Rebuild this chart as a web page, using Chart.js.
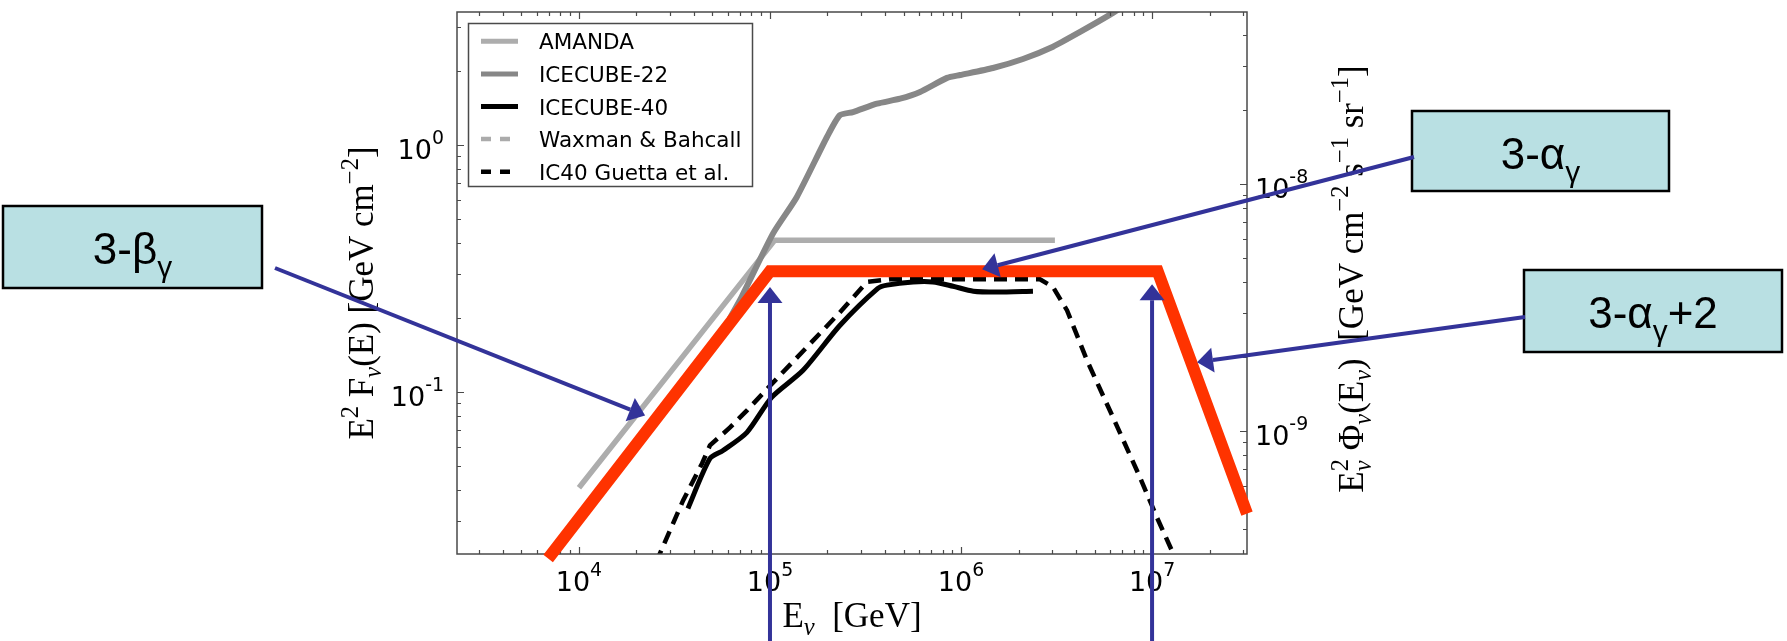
<!DOCTYPE html>
<html>
<head>
<meta charset="utf-8">
<script src="https://cdn.jsdelivr.net/npm/chart.js@4/dist/chart.umd.min.js"></script>
<style>
  html, body { margin: 0; padding: 0; background: #ffffff; overflow: hidden; }
  canvas { display: block; }
</style>
</head>
<body>
<canvas id="c" width="1787" height="641" style="width:1787px;height:641px"></canvas>
<script>
// Neutrino energies in GeV and fluence E^2 F(E) in GeV cm^-2
const amandaE = [1e4, 1.06e5, 3.1e6];
const amandaF = [0.041, 0.412, 0.412];

const ic22E = [6.17e4, 7.11e4, 1.04e5, 1.38e5, 1.99e5, 2.32e5, 2.72e5, 3.63e5, 4.8e5, 6.1e5,
               8.45e5, 9.9e5, 1.47e6, 2.11e6, 3.03e6, 4.2e6, 6.03e6, 7.2e6];
const ic22F = [0.199, 0.243, 0.44, 0.615, 1.08, 1.32, 1.36, 1.47, 1.54, 1.64,
               1.87, 1.92, 2.05, 2.23, 2.5, 2.87, 3.37, 3.69];

const ic40E = [3.72e4, 4.85e4, 5.68e4, 7.58e4, 1.02e5, 1.49e5, 2.32e5, 3.67e5, 4.1e5, 5.61e5,
               7.13e5, 9.08e5, 1.16e6, 1.54e6, 2.38e6];
const ic40F = [0.0338, 0.0538, 0.058, 0.0687, 0.0952, 0.1225, 0.186, 0.263, 0.271, 0.279,
               0.279, 0.268, 0.256, 0.254, 0.256];

const wbE = [1e4, 1e5, 1.07e7, 3e7];
const wbF = [0.0308, 0.308, 0.308, 0.0353];

const guettaE = [2.53e4, 3.51e4, 4.41e4, 4.85e4, 6.18e4, 7.58e4, 1.04e5, 1.56e5, 2.32e5, 3.22e5,
                 4.25e5, 1.07e6, 2.59e6, 3.03e6, 3.59e6, 4.57e6, 6.25e6, 8.65e6, 1.06e7, 1.34e7];
const guettaF = [0.0204, 0.0364, 0.0514, 0.0608, 0.0719, 0.0843, 0.1094, 0.152, 0.21, 0.279,
                 0.286, 0.286, 0.286, 0.266, 0.214, 0.134, 0.0789, 0.0451, 0.0311, 0.0208];

// broken power law drawn over the limits (slopes 3-beta, 3-alpha, 3-alpha+2)
const brokenE = [6.9e3, 1e5, 1.07e7, 3.14e7];
const brokenF = [0.0212, 0.308, 0.308, 0.0322];

const seriesNames = ['AMANDA', 'ICECUBE-22', 'ICECUBE-40', 'Waxman & Bahcall', 'IC40 Guetta et al.'];
const brokenName = 'broken power law';

// axis ranges
const xRange = [2300, 3.14e7];
const yRange = [0.0221, 3.455];
const fluxPerFluence = 1.44e-8;   // right axis value = left axis value * this

// tick labels (value, exponent text)
const xTickValues = [1e4, 1e5, 1e6, 1e7];
const xTickExps = ['4', '5', '6', '7'];
const yTickValues = [1e-1, 1e0];
const yTickExps = ['-1', '0'];
const y2TickValues = [1e-9, 1e-8];
const y2TickExps = ['-9', '-8'];

// callouts: arrow tips given in data coordinates (E, fluence)
const breakEnergies = [1e5, 1e7];
const breakTipF = [0.266, 0.273];
const calloutTipE = [2.22e4, 1.29e6, 1.72e7];
const calloutTipF = [0.0804, 0.314, 0.132];

const pts = (xs, ys) => xs.map((x, i) => ({ x, y: ys[i] }));

// ---------- rich text with super/subscripts ----------
function drawRich(ctx, parts, x, y, o) {
  const big = o.size, small = o.size * (o.scale || 0.7);
  const font = (sz, it) => (it ? 'italic ' : '') + sz.toFixed(1) + 'px ' + o.family;
  const runs = [];
  let w = 0;
  for (const p of parts) {
    if (p.t !== undefined) {
      ctx.font = font(big, p.it);
      runs.push({ t: p.t, f: ctx.font, dx: w, dy: 0 });
      w += ctx.measureText(p.t).width;
    } else {
      let adv = 0;
      if (p.sup !== undefined) {
        ctx.font = font(small, p.supIt);
        runs.push({ t: p.sup, f: ctx.font, dx: w, dy: -big * o.rise });
        adv = Math.max(adv, ctx.measureText(p.sup).width);
      }
      if (p.sub !== undefined) {
        ctx.font = font(small, p.subIt);
        runs.push({ t: p.sub, f: ctx.font, dx: w, dy: big * o.drop });
        adv = Math.max(adv, ctx.measureText(p.sub).width);
      }
      w += adv + (o.gap || 0);
    }
  }
  const x0 = o.align === 'center' ? x - w / 2 : o.align === 'right' ? x - w : x;
  ctx.textAlign = 'left';
  ctx.textBaseline = 'alphabetic';
  ctx.fillStyle = o.color || '#000';
  for (const r of runs) { ctx.font = r.f; ctx.fillText(r.t, x0 + r.dx, y + r.dy); }
  return w;
}

const tickFont = { size: 27, family: '"DejaVu Sans"', scale: 0.7, rise: 0.55, drop: 0 };
const titleFont = { size: 35, family: '"Liberation Serif"', scale: 0.7, rise: 0.42, drop: 0.22 };
const calloutFont = { size: 44, family: '"Liberation Sans"', scale: 0.68, rise: 0.4, drop: 0.3 };

function logTicks(min, max) {
  const out = [];
  for (let d = Math.floor(Math.log10(min)); d <= Math.ceil(Math.log10(max)); d++) {
    for (let m = 1; m <= 9; m++) {
      const v = m * Math.pow(10, d);
      if (v >= min * 0.9999 && v <= max * 1.0001) out.push({ v, major: m === 1 });
    }
  }
  return out;
}

// ---------- frame, inward ticks and tick labels ----------
function drawAxes(chart) {
  const { ctx, chartArea: a } = chart;
  const { x, y, y2 } = chart.scales;
  ctx.save();
  ctx.strokeStyle = '#4a4a4a';
  ctx.lineWidth = 1.2;
  ctx.beginPath();
  logTicks(x.min, x.max).forEach(t => {
    const p = Math.round(x.getPixelForValue(t.v)) + 0.5, L = t.major ? 7 : 4;
    ctx.moveTo(p, a.bottom); ctx.lineTo(p, a.bottom - L);
    ctx.moveTo(p, a.top); ctx.lineTo(p, a.top + L);
  });
  logTicks(y.min, y.max).forEach(t => {
    const p = Math.round(y.getPixelForValue(t.v)) + 0.5, L = t.major ? 7 : 4;
    ctx.moveTo(a.left, p); ctx.lineTo(a.left + L, p);
  });
  logTicks(y2.min, y2.max).forEach(t => {
    const p = Math.round(y2.getPixelForValue(t.v)) + 0.5, L = t.major ? 7 : 4;
    ctx.moveTo(a.right, p); ctx.lineTo(a.right - L, p);
  });
  ctx.stroke();
  ctx.lineWidth = 1.5;
  ctx.strokeRect(a.left, a.top, a.right - a.left, a.bottom - a.top);

  xTickValues.forEach((v, i) => {
    drawRich(ctx, [{ t: '10' }, { sup: xTickExps[i] }], x.getPixelForValue(v), a.bottom + 37,
      Object.assign({ align: 'center' }, tickFont));
  });
  yTickValues.forEach((v, i) => {
    drawRich(ctx, [{ t: '10' }, { sup: yTickExps[i] }], a.left - 13, y.getPixelForValue(v) + 14,
      Object.assign({ align: 'right' }, tickFont));
  });
  y2TickValues.forEach((v, i) => {
    drawRich(ctx, [{ t: '10' }, { sup: y2TickExps[i] }], a.right + 8, y2.getPixelForValue(v) + 14,
      Object.assign({ align: 'left' }, tickFont));
  });
  ctx.restore();
}

const axesPlugin = {
  id: 'axesPlugin',
  beforeDatasetDraw(chart, args) {
    if (chart.data.datasets[args.index].label === brokenName) drawAxes(chart);
  }
};

// ---------- legend, axis titles, callouts ----------
function arrow(ctx, x0, y0, x1, y1) {
  const ang = Math.atan2(y1 - y0, x1 - x0);
  const L = 16, W = 12.5;
  const bx = x1 - L * Math.cos(ang), by = y1 - L * Math.sin(ang);
  ctx.beginPath(); ctx.moveTo(x0, y0); ctx.lineTo(bx, by); ctx.stroke();
  ctx.beginPath();
  ctx.moveTo(x1, y1);
  ctx.lineTo(bx + W * Math.sin(ang), by - W * Math.cos(ang));
  ctx.lineTo(bx - W * Math.sin(ang), by + W * Math.cos(ang));
  ctx.closePath(); ctx.fill();
}

const overlayPlugin = {
  id: 'overlayPlugin',
  afterDraw(chart) {
    const { ctx, chartArea: a } = chart;
    const { x, y } = chart.scales;
    ctx.save();

    // legend
    const lx = a.left + 11.5, ly = a.top + 11.5, lw = 284, lh = 163;
    ctx.fillStyle = '#fff';
    ctx.fillRect(lx, ly, lw, lh);
    ctx.strokeStyle = '#4a4a4a'; ctx.lineWidth = 1.5;
    ctx.strokeRect(lx, ly, lw, lh);
    seriesNames.forEach((name, i) => {
      const ds = chart.data.datasets.find(d => d.label === name);
      const ry = a.top + 29.3 + i * 32.6;
      ctx.save();
      ctx.strokeStyle = ds.borderColor;
      ctx.lineWidth = Math.min(ds.borderWidth, 5);
      ctx.setLineDash(ds.borderDash ? [10, 9] : []);
      ctx.beginPath(); ctx.moveTo(a.left + 24, ry); ctx.lineTo(a.left + 61, ry); ctx.stroke();
      ctx.restore();
      ctx.fillStyle = '#000';
      ctx.font = '21.5px "DejaVu Sans"';
      ctx.textAlign = 'left'; ctx.textBaseline = 'alphabetic';
      ctx.fillText(name, a.left + 82, ry + 8);
    });

    // axis titles
    drawRich(ctx, [{ t: 'E' }, { sub: 'ν', subIt: true }, { t: '  [GeV]' }],
      (a.left + a.right) / 2, 627, Object.assign({ align: 'center' }, titleFont));

    ctx.save();
    ctx.translate(373, 293); ctx.rotate(-Math.PI / 2);
    drawRich(ctx, [{ t: 'E' }, { sup: '2' }, { t: ' F' }, { sub: 'ν', subIt: true },
      { t: '(E) [GeV cm' }, { sup: '−2' }, { t: ']' }], 0, 0,
      Object.assign({ align: 'center' }, titleFont));
    ctx.restore();

    ctx.save();
    ctx.translate(1363, 279); ctx.rotate(-Math.PI / 2);
    drawRich(ctx, [{ t: 'E' }, { sup: '2', sub: 'ν', subIt: true }, { t: ' Φ' }, { sub: 'ν', subIt: true },
      { t: '(E' }, { sub: 'ν', subIt: true }, { t: ')  [GeV cm' }, { sup: '−2' }, { t: ' s' }, { sup: '−1' },
      { t: ' sr' }, { sup: '−1' }, { t: ']' }], 0, 0,
      Object.assign({ align: 'center' }, titleFont));
    ctx.restore();

    // callout boxes
    const boxes = [
      { x: 3, y: 206, w: 259, h: 82, parts: [{ t: '3-β' }, { sub: 'γ' }], tail: [275, 268] },
      { x: 1412, y: 111, w: 257, h: 80, parts: [{ t: '3-α' }, { sub: 'γ' }], tail: [1414, 157] },
      { x: 1524, y: 270, w: 258, h: 82, parts: [{ t: '3-α' }, { sub: 'γ' }, { t: '+2' }], tail: [1525, 317] }
    ];
    boxes.forEach(b => {
      ctx.fillStyle = '#b9e0e3';
      ctx.fillRect(b.x, b.y, b.w, b.h);
      ctx.strokeStyle = '#000'; ctx.lineWidth = 2.5;
      ctx.strokeRect(b.x, b.y, b.w, b.h);
      drawRich(ctx, b.parts, b.x + b.w / 2, b.y + 58, Object.assign({ align: 'center' }, calloutFont));
    });

    // arrows
    ctx.strokeStyle = '#333399'; ctx.fillStyle = '#333399'; ctx.lineWidth = 4;
    ctx.lineCap = 'butt';
    boxes.forEach((b, i) => {
      arrow(ctx, b.tail[0], b.tail[1], x.getPixelForValue(calloutTipE[i]), y.getPixelForValue(calloutTipF[i]));
    });
    breakEnergies.forEach((e, i) => {
      const px = x.getPixelForValue(e);
      arrow(ctx, px, chart.height + 2, px, y.getPixelForValue(breakTipF[i]));
    });
    ctx.restore();
  }
};

new Chart(document.getElementById('c'), {
  type: 'line',
  data: {
    datasets: [
      { label: brokenName, data: pts(brokenE, brokenF), borderColor: '#ff3300', borderWidth: 12,
        borderJoinStyle: 'miter', clip: false, order: 0 },
      { label: 'IC40 Guetta et al.', data: pts(guettaE, guettaF), borderColor: '#000000', borderWidth: 4.5,
        borderDash: [13, 8], clip: 0, order: 1 },
      { label: 'Waxman & Bahcall', data: pts(wbE, wbF), borderColor: '#ababab', borderWidth: 4.5,
        borderDash: [13, 8], clip: 0, order: 2 },
      { label: 'ICECUBE-40', data: pts(ic40E, ic40F), borderColor: '#000000', borderWidth: 5,
        tension: 0.25, clip: 0, order: 3 },
      { label: 'ICECUBE-22', data: pts(ic22E, ic22F), borderColor: '#878787', borderWidth: 6,
        tension: 0.2, clip: 0, order: 4 },
      { label: 'AMANDA', data: pts(amandaE, amandaF), borderColor: '#adadad', borderWidth: 5.5,
        clip: 0, order: 5 }
    ]
  },
  options: {
    responsive: false,
    animation: false,
    devicePixelRatio: 1,
    elements: { point: { radius: 0, hoverRadius: 0 }, line: { tension: 0, fill: false } },
    layout: { padding: { left: 457, top: 12, right: 540, bottom: 87 } },
    scales: {
      x: { type: 'logarithmic', min: xRange[0], max: xRange[1], display: false },
      y: { type: 'logarithmic', min: yRange[0], max: yRange[1], display: false },
      y2: { type: 'logarithmic', position: 'right', min: yRange[0] * fluxPerFluence,
            max: yRange[1] * fluxPerFluence, display: false }
    },
    plugins: { legend: { display: false }, tooltip: { enabled: false }, title: { display: false } },
    events: []
  },
  plugins: [axesPlugin, overlayPlugin]
});
</script>
</body>
</html>
